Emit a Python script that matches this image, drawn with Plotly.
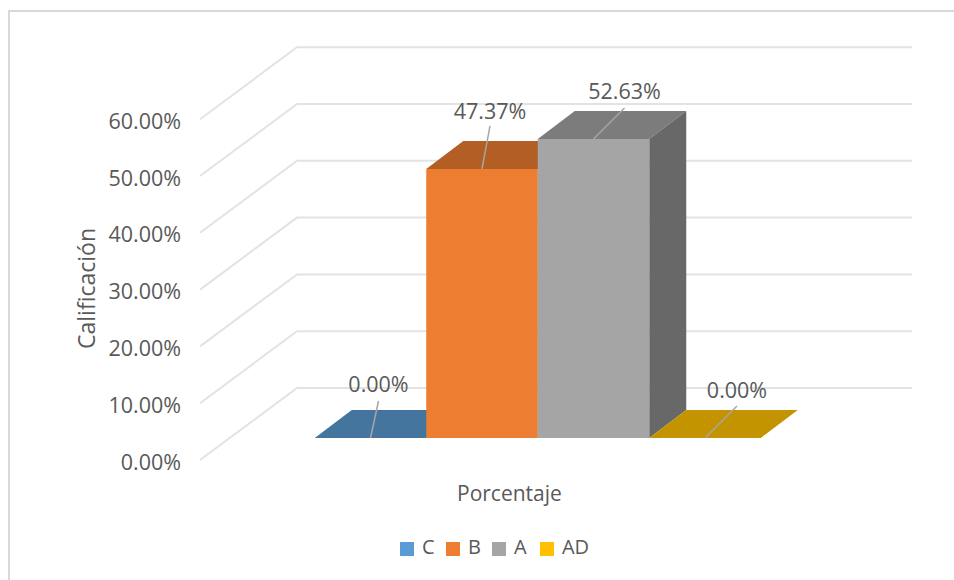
import plotly.graph_objs as go

# ---- data
series = ["C", "B", "A", "AD"]
values = [0.00, 47.37, 52.63, 0.00]
labels = ["0.00%", "47.37%", "52.63%", "0.00%"]
ticks = [0, 10, 20, 30, 40, 50, 60]
tick_labels = ["0.00%", "10.00%", "20.00%", "30.00%", "40.00%", "50.00%", "60.00%"]

front = ["#5B9BD5", "#ED7D31", "#A5A5A5", "#FFC000"]
top = ["#44759F", "#B25E25", "#7C7C7C", "#C39300"]
side = ["#44759F", "#8F4C1E", "#686868", "#C39300"]
legend_x = [407, 453, 499, 547]

# ---- page geometry, px
W, H = 954, 580
X0, BAR_W = 370.5, 111.5   # centre of first bar, bar width
Y0, PX = 438, 5.68         # bar baseline, px per percent
DX, DY = 37 / BAR_W, 28 / PX  # depth of a bar in axis units
TEXT = "#595959"
GRID = "#E3E3E3"
FRAME = "#D9D9D9"


def xpx(px):
    return (px - X0) / BAR_W


def ypx(px, base=Y0):
    return (base - px) / PX


data = []

# walls: oblique side wall + back wall
for t in ticks:
    data.append(go.Scatter(
        x=[xpx(200), xpx(297), xpx(912)],
        y=[t + ypx(460), t + ypx(388), t + ypx(388)],
        mode="lines", line=dict(color=GRID, width=2),
        hoverinfo="skip", showlegend=False,
    ))

# bar depth faces
for i, v in enumerate(values):
    data.append(go.Scatter(
        x=[i - .5, i - .5 + DX, i + .5 + DX, i + .5, i - .5],
        y=[v, v + DY, v + DY, v, v],
        mode="lines", fill="toself", fillcolor=top[i], line=dict(width=0),
        hoverinfo="skip", showlegend=False,
    ))
    if v > 0:
        data.append(go.Scatter(
            x=[i + .5, i + .5 + DX, i + .5 + DX, i + .5, i + .5],
            y=[v, v + DY, DY, 0, v],
            mode="lines", fill="toself", fillcolor=side[i], line=dict(width=0),
            hoverinfo="skip", showlegend=False,
        ))

# front faces, on an overlay so they hide what is behind them
for i, v in enumerate(values):
    data.append(go.Bar(
        x=[i], y=[v], width=1, name=series[i], yaxis="y2", showlegend=False,
        marker=dict(color=front[i], line=dict(width=0)),
    ))

# data labels and leader lines
label_dx = [8, 8, 31, 32]
label_up = [37, 43, 31, 32]
label_text_up = [51, 55, 45, 45]
for i, v in enumerate(values):
    data.append(go.Scatter(
        x=[i, i + label_dx[i] / BAR_W], y=[v, v + label_up[i] / PX],
        yaxis="y2", mode="lines", line=dict(color="#A6A6A6", width=1.5),
        hoverinfo="skip", showlegend=False,
    ))
    data.append(go.Scatter(
        x=[i + label_dx[i] / BAR_W], y=[v + label_text_up[i] / PX],
        yaxis="y2", mode="text", text=[labels[i]],
        textfont=dict(family="Open Sans", size=21.5, color=TEXT),
        hoverinfo="skip", showlegend=False,
    ))

# legend row: swatch with its name beside it
for i, name in enumerate(series):
    data.append(go.Scatter(
        x=[xpx(legend_x[i])], y=[ypx(549)], yaxis="y2",
        mode="markers+text", text=["\u00a0" + name], textposition="middle right",
        marker=dict(symbol="square", size=14, color=front[i]),
        textfont=dict(family="Open Sans", size=20, color=TEXT),
        hoverinfo="skip", showlegend=False,
    ))

layout = go.Layout(
    width=W, height=H,
    margin=dict(l=0, r=0, t=0, b=0),
    paper_bgcolor="white", plot_bgcolor="white",
    barmode="overlay",
    showlegend=False,
    xaxis=dict(range=[xpx(0), xpx(W)], visible=False, fixedrange=True),
    yaxis=dict(range=[ypx(H), ypx(0)], visible=False, fixedrange=True),
    yaxis2=dict(range=[ypx(H), ypx(0)], overlaying="y", visible=False, fixedrange=True),
    # tick labels sit on the front edge of the side wall
    yaxis3=dict(
        range=[ypx(H, 462), ypx(0, 462)], overlaying="y", anchor="free",
        position=181 / W, side="left", tickmode="array", tickvals=ticks,
        ticktext=tick_labels, showgrid=False, showline=False, zeroline=False,
        ticks="", automargin=False, fixedrange=True,
        tickfont=dict(family="Open Sans", size=21.5, color=TEXT),
    ),
    annotations=[
        dict(text="Calificación", x=86 / W, y=1 - 289 / H, xref="paper", yref="paper",
             xanchor="center", yanchor="middle", textangle=-90, showarrow=False,
             font=dict(family="Open Sans", size=23, color=TEXT)),
        dict(text="Porcentaje", x=509 / W, y=1 - 493 / H, xref="paper", yref="paper",
             xanchor="center", yanchor="middle", showarrow=False,
             font=dict(family="Open Sans", size=21, color=TEXT)),
    ],
    # chart frame shows only along the top and left of the picture
    shapes=[
        dict(type="line", xref="paper", yref="paper", x0=8 / W, x1=1,
             y0=1 - 11 / H, y1=1 - 11 / H, line=dict(color=FRAME, width=2)),
        dict(type="line", xref="paper", yref="paper", x0=9 / W, x1=9 / W,
             y0=0, y1=1 - 10 / H, line=dict(color=FRAME, width=2)),
    ],
)

# empty trace so the tick label axis is drawn
data.append(go.Scatter(x=[None], y=[None], yaxis="y3", showlegend=False, hoverinfo="skip"))

fig = go.Figure(data=data, layout=layout)
fig.write_html("out.html", config=dict(displayModeBar=False),
               post_script="document.body.style.margin='0';")
